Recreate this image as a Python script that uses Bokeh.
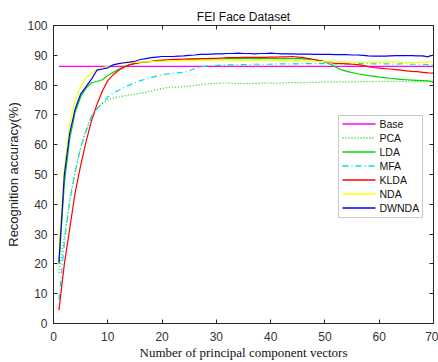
from bokeh.plotting import figure
from bokeh.models import (Range1d, LinearAxis, FixedTicker, CustomLabelingPolicy,
                          BoxAnnotation, Arrow, Label)
from bokeh.embed import file_html
from bokeh.resources import INLINE

# ---- data ----
x_vals = list(range(1, 71))

base_x = [1, 70]
base_y = [86.3, 86.3]

pca = [17, 29, 42, 51, 59, 65, 69.5, 72, 73.8, 75,
       75.6, 76.0, 76.4, 76.7, 77.0, 77.3, 77.6, 78.0, 78.4, 78.8,
       79.2, 79.4, 79.3, 79.5, 79.7, 79.9, 80.1, 80.3, 80.5, 80.6,
       80.7, 80.7, 80.6, 80.6, 80.5, 80.5, 80.6, 80.6, 80.7, 80.7,
       80.6, 80.7, 80.8, 80.8, 80.8, 80.8, 80.9, 80.9, 81.0, 81.0,
       81.0, 81.0, 81.1, 81.0, 81.1, 81.1, 81.2, 81.1, 81.2, 81.2,
       81.2, 81.3, 81.2, 81.2, 81.3, 81.3, 81.2, 81.3, 81.3, 81.3]

lda = [20, 47, 62, 71, 76, 79, 80.8, 81.2, 81.8, 83.2,
       84.3, 85.3, 86.2, 86.9, 87.2, 87.5, 87.7, 87.9, 88.1, 88.2,
       88.3, 88.4, 88.5, 88.5, 88.6, 88.6, 88.7, 88.7, 88.7, 88.8,
       88.8, 88.9, 88.9, 88.9, 89.0, 89.0, 88.9, 88.9, 89.0, 89.0,
       88.9, 88.9, 88.9, 88.9, 88.9, 88.8, 88.7, 88.5, 88.2, 87.7,
       87.0, 86.0, 85.2, 84.6, 84.2, 83.8, 83.5, 83.2, 83.0, 82.7,
       82.5, 82.3, 82.1, 81.9, 81.8, 81.7, 81.6, 81.5, 81.4, 81.0]

mfa = [8, 27, 41, 51, 59, 64.5, 69.5, 72, 74, 76,
       77.3, 78.3, 79.2, 80.0, 80.8, 81.5, 82.0, 82.5, 83.0, 83.4,
       83.8, 84.0, 84.1, 84.3, 84.8, 85.5, 86.0, 86.4, 86.5, 86.6,
       86.7, 86.8, 86.8, 86.9, 86.9, 86.9, 87.0, 87.0, 87.0, 87.0,
       87.1, 87.1, 87.1, 87.1, 87.1, 87.2, 87.2, 87.2, 87.2, 87.2,
       87.1, 87.1, 87.2, 87.1, 87.1, 87.1, 87.2, 87.2, 87.1, 87.1,
       87.1, 87.1, 87.0, 87.1, 87.1, 87.0, 87.0, 87.0, 86.9, 86.9]

klda = [4.5, 20, 32, 44, 53, 61, 68, 73.5, 78, 81.5,
        83.5, 85.0, 86.0, 86.8, 87.3, 87.6, 87.8, 88.0, 88.2, 88.4,
        88.5, 88.6, 88.6, 88.7, 88.8, 88.8, 88.9, 88.9, 89.0, 89.0,
        89.1, 89.2, 89.2, 89.2, 89.3, 89.3, 89.3, 89.3, 89.3, 89.4,
        89.4, 89.5, 89.5, 89.6, 89.4, 89.2, 88.9, 88.6, 88.2, 87.9,
        87.6, 87.3, 87.2, 87.1, 87.0, 86.9, 86.6, 86.2, 85.9, 85.7,
        85.5, 85.4, 85.2, 85.0, 84.8, 84.6, 84.5, 84.3, 84.1, 84.0]

nda = [25, 52, 67, 75, 79.5, 82.5, 84, 85.2, 85.8, 86.3,
       86.8, 87.1, 87.3, 87.5, 87.6, 87.7, 87.8, 87.9, 88.0, 88.0,
       88.1, 88.2, 88.2, 88.3, 88.3, 88.3, 88.4, 88.4, 88.4, 88.4,
       88.4, 88.4, 88.3, 88.3, 88.3, 88.3, 88.3, 88.3, 88.3, 88.3,
       88.3, 88.2, 88.2, 88.2, 88.2, 88.1, 88.1, 88.0, 87.9, 87.8,
       87.8, 87.7, 87.7, 87.7, 87.7, 87.7, 87.6, 87.6, 87.6, 87.7,
       87.7, 87.7, 87.7, 87.6, 87.6, 87.6, 87.6, 87.7, 87.7, 87.7]

dwnda = [20.5, 50, 64, 72, 77, 79.5, 82, 85, 85.4, 85.8,
         86.8, 87.2, 87.5, 87.7, 88.0, 88.6, 88.9, 89.2, 89.4, 89.6,
         89.6, 89.6, 89.7, 89.8, 90.0, 90.1, 90.3, 90.3, 90.4, 90.5,
         90.5, 90.6, 90.6, 90.7, 90.6, 90.6, 90.5, 90.6, 90.6, 90.7,
         90.6, 90.5, 90.5, 90.5, 90.4, 90.4, 90.4, 90.3, 90.3, 90.3,
         90.3, 90.2, 90.2, 90.2, 90.1, 90.1, 90.0, 89.8, 89.7, 89.7,
         89.7, 89.8, 89.9, 89.9, 89.9, 89.9, 89.8, 89.8, 89.5, 90.1]

x_ticks = [0, 10, 20, 30, 40, 50, 60, 70]
y_ticks = [0, 10, 20, 30, 40, 50, 60, 70, 80, 90, 100]

series_names = ["Base", "PCA", "LDA", "MFA", "KLDA", "NDA", "DWNDA"]

title_text = "FEI Face Dataset"
x_label = "Number of principal component vectors"
y_label = "Recognition accuracy(%)"

# ---- styles ----
AX = "#262626"
LW = 1.2
LEG_LW = 1.5
styles = {
    "Base":  dict(color="#FF00FF", dash="solid"),
    "PCA":   dict(color="#00D000", dash="1 2"),
    "LDA":   dict(color="#00D800", dash="solid"),
    "MFA":   dict(color="#00E0E0", dash="6 3 1 3"),
    "KLDA":  dict(color="#FF0000", dash="solid"),
    "NDA":   dict(color="#FFFF00", dash="solid"),
    "DWNDA": dict(color="#0000FF", dash="solid"),
}

# ---- figure ----
p = figure(width=438, height=362, output_backend="svg", toolbar_location=None,
           x_range=Range1d(0, 70), y_range=Range1d(0, 100),
           min_border_left=53, min_border_right=5, min_border_top=25,
           min_border_bottom=39)
p.background_fill_color = "white"
p.border_fill_color = "white"
p.outline_line_color = AX
p.grid.visible = False

p.title.text = title_text
p.title.align = "center"
p.title.text_font = "Liberation Sans"
p.title.text_font_size = "12px"
p.title.text_font_style = "normal"
p.title.text_color = "#111111"
p.title.standoff = 4

hide_labels = CustomLabelingPolicy(code="""
try {
  const arr = Array.from(indices)
  for (const i of arr) indices.unset(i)
} catch (e) {}
return indices
""")

def style_axis(ax, ticks, show_labels=True, standoff=5):
    ax.ticker = FixedTicker(ticks=ticks)
    ax.major_tick_in = 4
    ax.major_tick_out = 0
    ax.minor_tick_line_color = None
    ax.axis_line_color = AX
    ax.major_tick_line_color = AX
    ax.major_label_text_font = "Liberation Sans"
    ax.major_label_text_color = "#333333"
    if show_labels:
        ax.major_label_text_font_size = "12px"
        ax.major_label_standoff = standoff
    else:
        ax.major_label_policy = hide_labels
        ax.major_label_text_font_size = "0px"
        ax.major_label_standoff = 0

xa = p.xaxis[0]
ya = p.yaxis[0]
style_axis(xa, x_ticks, standoff=8)
style_axis(ya, y_ticks, standoff=6)
xa.axis_label = x_label
xa.axis_label_text_font = "Liberation Serif"
xa.axis_label_text_font_size = "13px"
xa.axis_label_text_font_style = "normal"
xa.axis_label_text_color = "#111111"
xa.axis_label_standoff = 1
ya.axis_label = y_label
ya.axis_label_text_font = "Liberation Sans"
ya.axis_label_text_font_size = "13px"
ya.axis_label_text_font_style = "normal"
ya.axis_label_text_color = "#222222"
ya.axis_label_standoff = 3

top_ax = LinearAxis()
style_axis(top_ax, x_ticks, show_labels=False)
p.add_layout(top_ax, "above")
right_ax = LinearAxis()
style_axis(right_ax, y_ticks, show_labels=False)
p.add_layout(right_ax, "right")

series_y = {"PCA": pca, "LDA": lda, "MFA": mfa, "KLDA": klda,
            "NDA": nda, "DWNDA": dwnda}
for name in series_names:
    st = styles[name]
    if name == "Base":
        xs, ys = base_x, base_y
    else:
        xs, ys = x_vals, series_y[name]
    p.line(xs, ys, line_color=st["color"], line_width=LW,
           line_dash=st["dash"])

# ---- legend (screen units, relative to frame bottom-left) ----
LEG_L, LEG_R, LEG_B, LEG_T = 285, 369, 106, 208
ROW0, ROW_STEP = 199.5, 14
SAMPLE_X0, SAMPLE_X1, TEXT_X = 289, 322, 326

p.add_layout(BoxAnnotation(left=LEG_L, right=LEG_R, bottom=LEG_B, top=LEG_T,
                           left_units="screen", right_units="screen",
                           bottom_units="screen", top_units="screen",
                           fill_color="white", fill_alpha=1.0,
                           line_color="#222222", line_width=0.8))
for i, name in enumerate(series_names):
    st = styles[name]
    sy = ROW0 - i * ROW_STEP
    p.add_layout(Arrow(end=None, start=None,
                       x_start=SAMPLE_X0, y_start=sy, x_end=SAMPLE_X1, y_end=sy,
                       start_units="screen", end_units="screen",
                       line_color=st["color"], line_width=LEG_LW,
                       line_dash=st["dash"]))
    p.add_layout(Label(x=TEXT_X, y=sy, x_units="screen", y_units="screen",
                       text=name, text_font="Liberation Sans",
                       text_font_size="10.5px", text_color="#111111",
                       text_baseline="middle", text_align="left"))

open("out.html", "w").write(file_html(p, INLINE))
